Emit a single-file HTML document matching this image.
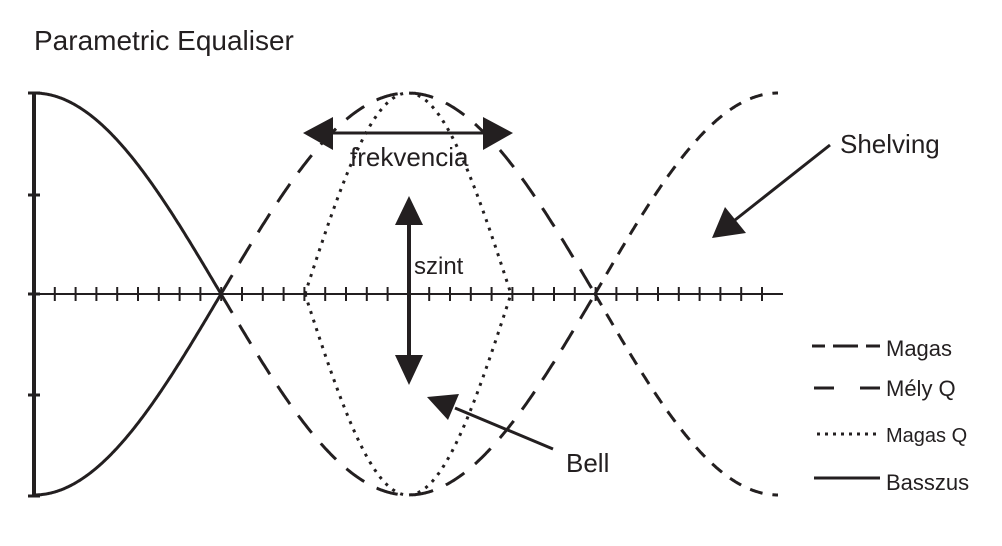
<!DOCTYPE html>
<html><head><meta charset="utf-8"><style>
html,body{margin:0;padding:0;background:#fff;}
svg{display:block}
text{font-family:"Liberation Sans",sans-serif;fill:#231f20}
</style></head><body>
<svg id="s" width="1002" height="546" viewBox="0 0 1002 546" xmlns="http://www.w3.org/2000/svg">
<text x="34" y="50" font-size="28">Parametric Equaliser</text>
<g stroke="#231f20" fill="none" stroke-width="3">
<line x1="34" y1="92" x2="34" y2="497" stroke-width="4"/>
<line x1="28" y1="93" x2="40" y2="93"/><line x1="28" y1="195" x2="40" y2="195"/>
<line x1="28" y1="294" x2="40" y2="294"/><line x1="28" y1="395" x2="40" y2="395"/>
<line x1="28" y1="496" x2="40" y2="496"/>
<line x1="34" y1="294" x2="783" y2="294" stroke-width="2"/>
<g id="ticks" stroke-width="2"></g>
<path id="bass" stroke-width="3"/>
<path id="mely" stroke-width="3" stroke-dasharray="22,14"/>
<path id="magq" stroke-width="3" stroke-dasharray="3,6"/>
<path id="mag" stroke-width="3" stroke-dasharray="13,10"/>
<line x1="330" y1="133" x2="485" y2="133"/>
<line x1="409" y1="225" x2="409" y2="360" stroke-width="4"/>
<line x1="830" y1="145" x2="735" y2="220" stroke-width="3"/>
<line x1="553" y1="449" x2="455" y2="408" stroke-width="3"/>
<line x1="812" y1="346" x2="825" y2="346"/><line x1="833" y1="346" x2="858" y2="346"/><line x1="866" y1="346" x2="880" y2="346"/>
<line x1="814" y1="388" x2="834" y2="388"/><line x1="860" y1="388" x2="880" y2="388"/>
<line x1="817" y1="434" x2="880" y2="434" stroke-dasharray="3,5"/>
<line x1="814" y1="478" x2="880" y2="478"/>
</g>
<g fill="#231f20">
<polygon points="303,133 333,117 333,150"/>
<polygon points="513,133 483,117 483,150"/>
<polygon points="409,196 395,225 423,225"/>
<polygon points="409,385 395,355 423,355"/>
<polygon points="712,238 725,207 746,233"/>
<polygon points="427,397 459,394 448,420"/>
</g>
<text x="350" y="166" font-size="26">frekvencia</text>
<text x="414" y="274" font-size="24">szint</text>
<text x="840" y="153" font-size="26">Shelving</text>
<text x="566" y="472" font-size="26">Bell</text>
<text x="886" y="356" font-size="22">Magas</text>
<text x="886" y="396" font-size="22">Mély Q</text>
<text x="886" y="442" font-size="20">Magas Q</text>
<text x="886" y="490" font-size="22">Basszus</text>
</svg>
<script>
var A=201,Y=294;
function path(f,x0,x1){var d='';for(var x=x0;x<=x1+0.01;x+=1){d+=(d?'L':'M')+x.toFixed(1)+','+f(x).toFixed(1);}return d;}
var t='';for(var k=1;k<=35;k++){var x=34+k*20.8;t+='<line x1="'+x+'" y1="287" x2="'+x+'" y2="301"/>';}
document.getElementById('ticks').innerHTML=t;
var b=function(s){return function(x){return Y-s*A*Math.cos(Math.PI/2*(x-34)/187);}};
document.getElementById('bass').setAttribute('d',path(b(1),34,221)+path(b(-1),34,221));
var m=function(s){return function(x){return Y-s*A*Math.sin(Math.PI*(x-221)/374);}};
document.getElementById('mely').setAttribute('d',path(m(1),221,595)+path(m(-1),221,595));
var q=function(s){return function(x){return Y-s*A*Math.sin(Math.PI*(x-305)/206);}};
document.getElementById('magq').setAttribute('d',path(q(1),305,511)+path(q(-1),305,511));
var h=function(s){return function(x){return Y-s*A*Math.sin(Math.PI/2*(x-595)/183);}};
document.getElementById('mag').setAttribute('d',path(h(1),595,778)+path(h(-1),595,778));
</script>
</body></html>
